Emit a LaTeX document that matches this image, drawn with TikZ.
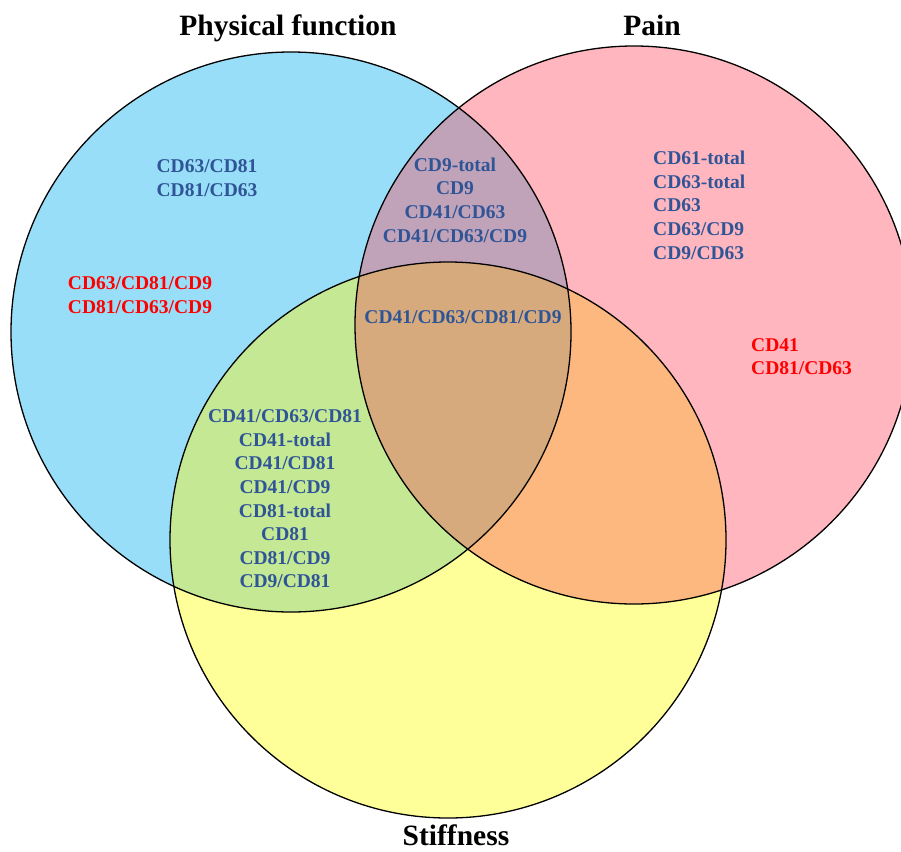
\documentclass[tikz,border=0pt]{standalone}
\usepackage{fontspec}
\setmainfont{Liberation Serif}
\definecolor{cblue}{RGB}{153,222,248}
\definecolor{cpink}{RGB}{255,182,190}
\definecolor{cyellow}{RGB}{255,255,153}
\definecolor{cgreen}{RGB}{196,232,148}
\definecolor{cmauve}{RGB}{192,162,185}
\definecolor{corange}{RGB}{253,184,128}
\definecolor{cbrown}{RGB}{214,170,124}
\definecolor{tblue}{RGB}{47,85,151}
\definecolor{tred}{RGB}{255,0,0}
\tikzset{
  title/.style={font=\fontsize{29.5}{34}\selectfont\bfseries, text=black, inner sep=0pt, anchor=base},
  lab/.style={font=\fontsize{19.5}{23.6}\selectfont\bfseries, inner sep=0pt, align=center},
  labl/.style={font=\fontsize{19.5}{23.6}\selectfont\bfseries, inner sep=0pt, align=left},
  ring/.style={draw=black, line width=1.3pt},
}
\begin{document}
\begin{tikzpicture}[x=1pt,y=-1pt]
\useasboundingbox (0,0) rectangle (901,851);
\clip (0,0) rectangle (901,851);
\def\blue{(291,332) circle[radius=280]}
\def\pink{(634,325) circle[radius=279]}
\def\yell{(448,540) circle[radius=278]}
% base fills
\fill[cblue] \blue;
\fill[cpink] \pink;
\fill[cyellow] \yell;
% pairwise overlaps
\begin{scope}\clip \blue; \fill[cmauve] \pink; \end{scope}
\begin{scope}\clip \blue; \fill[cgreen] \yell; \end{scope}
\begin{scope}\clip \pink; \fill[corange] \yell; \end{scope}
\begin{scope}\clip \blue; \clip \pink; \fill[cbrown] \yell; \end{scope}
% outlines
\draw[ring] \blue;
\draw[ring] \pink;
\draw[ring] \yell;
% titles
\node[title] (tphys) at (288,36) {Physical function};
\node[title] (tpain) at (652,36) {Pain};
\node[title] (tstiff) at (456,845) {Stiffness};
% labels
\node[lab, text=tblue] (pf) at (207,178) {CD63/CD81\\CD81/CD63};
\node[lab, text=tred] (pfred) at (140,295) {CD63/CD81/CD9\\CD81/CD63/CD9};
\node[lab, text=tblue] (pfpain) at (455,200) {CD9-total\\CD9\\CD41/CD63\\CD41/CD63/CD9};
\node[lab, text=tblue] (all) at (463,317) {CD41/CD63/CD81/CD9};
\node[labl, text=tblue, anchor=north west] (pain) at (653,151) {CD61-total\\CD63-total\\CD63\\CD63/CD9\\CD9/CD63};
\node[labl, text=tred, anchor=north west] (painred) at (751,338) {CD41\\CD81/CD63};
\node[lab, text=tblue] (pfst) at (285,499) {CD41/CD63/CD81\\CD41-total\\CD41/CD81\\CD41/CD9\\CD81-total\\CD81\\CD81/CD9\\CD9/CD81};
\end{tikzpicture}
\end{document}
